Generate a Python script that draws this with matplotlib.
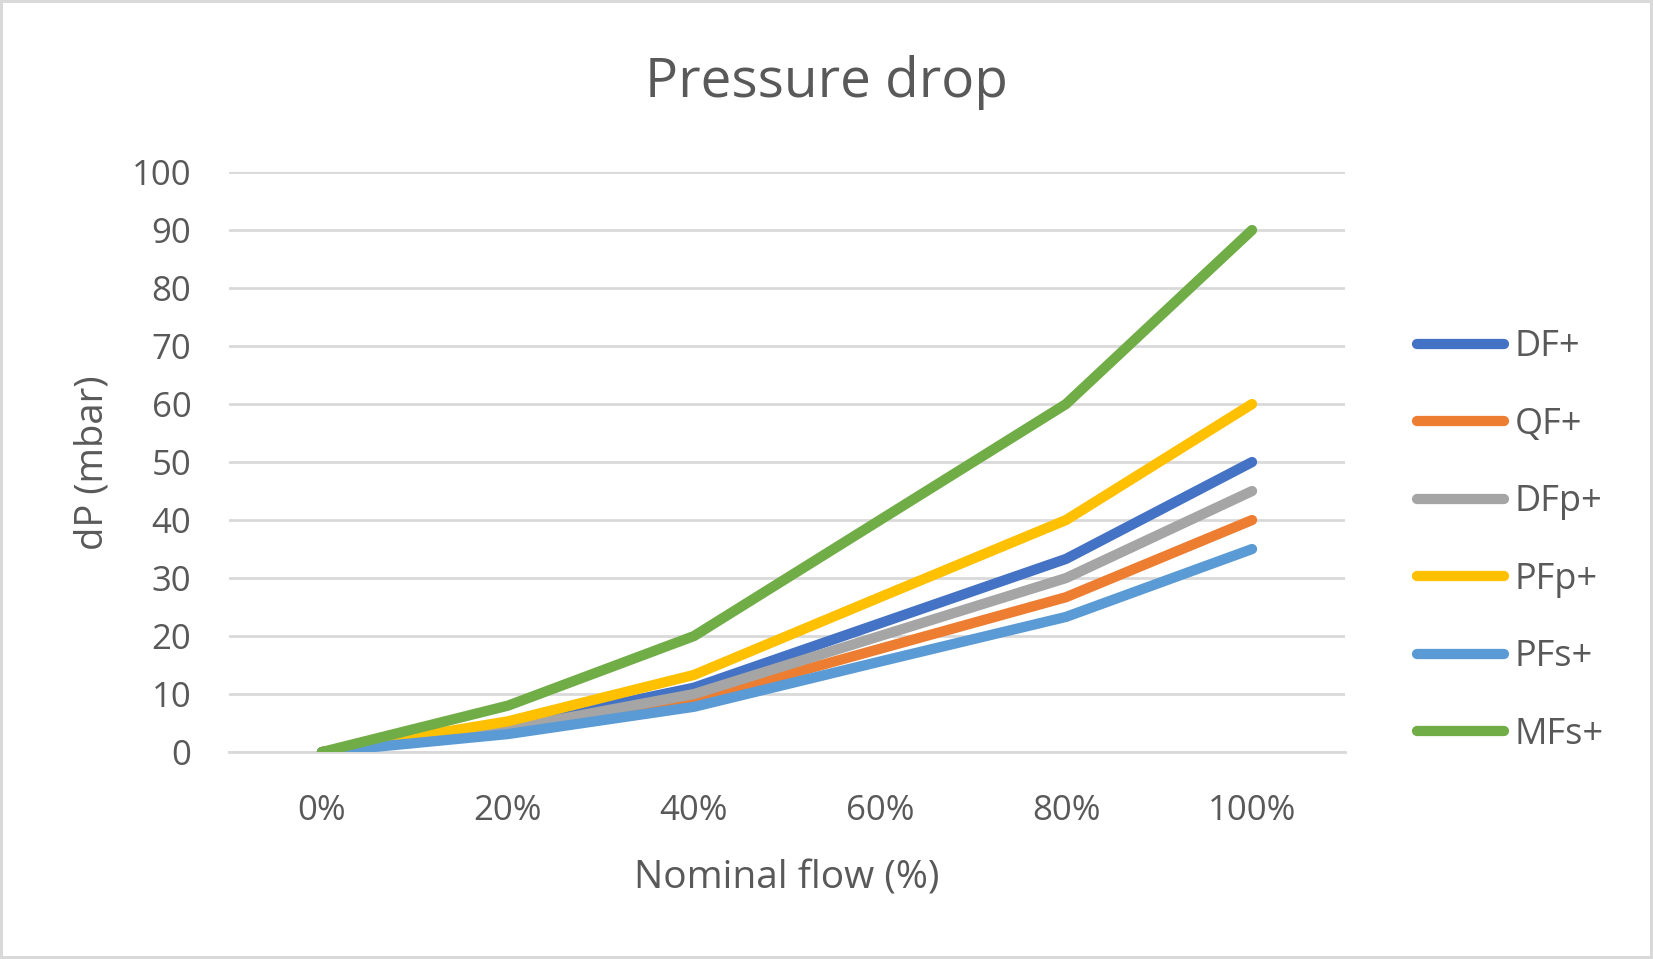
import matplotlib
matplotlib.use("Agg")
import matplotlib.pyplot as plt
from matplotlib.patches import Rectangle

# values
flow_labels = ["0%", "20%", "40%", "60%", "80%", "100%"]
series_names = ["DF+", "QF+", "DFp+", "PFp+", "PFs+", "MFs+"]
df_plus = [0, 4.4, 11.1, 22.2, 33.3, 50]
qf_plus = [0, 3.6, 8.9, 17.8, 26.7, 40]
dfp_plus = [0, 4.0, 10.0, 20.0, 30.0, 45]
pfp_plus = [0, 5.3, 13.3, 26.7, 40.0, 60]
pfs_plus = [0, 3.1, 7.8, 15.6, 23.3, 35]
mfs_plus = [0, 8.0, 20.0, 40.0, 60.0, 90]
colors = ["#4472C4", "#ED7D31", "#A5A5A5", "#FFC000", "#5B9BD5", "#70AD47"]

plt.rcParams['font.family'] = ['Open Sans', 'DejaVu Sans']
txt = "#595959"
grid_c = "#D9D9D9"

fig = plt.figure(figsize=(16.53, 9.59), dpi=100)
ax = fig.add_axes([0.1385, 0.2158, 0.8137 - 0.1385, 0.8206 - 0.2158])

x = list(range(len(flow_labels)))
all_series = [df_plus, qf_plus, dfp_plus, pfp_plus, pfs_plus, mfs_plus]
for vals, name, c in zip(all_series, series_names, colors):
    ax.plot(x, vals, color=c, lw=7.4, label=name,
            solid_capstyle='round', solid_joinstyle='round', zorder=3)

ax.set_xlim(-0.5, 5.5)
ax.set_ylim(0, 100)
ax.set_yticks(range(0, 101, 10))
ax.set_xticks(x)
ax.set_xticklabels(flow_labels)
ax.yaxis.grid(True, color=grid_c, lw=2)
ax.set_axisbelow(True)
for s in ["top", "right", "left"]:
    ax.spines[s].set_visible(False)
ax.spines["bottom"].set_color(grid_c)
ax.spines["bottom"].set_linewidth(2)
ax.tick_params(axis='y', length=0, pad=27, labelsize=25, labelcolor=txt)
ax.tick_params(axis='x', length=0, pad=30, labelsize=25, labelcolor=txt)

fig.text(0.5, 1 - 97 / 959, "Pressure drop", ha='center', va='baseline',
         fontsize=39.5, color=txt)
fig.text(787 / 1653, 1 - 889 / 959, "Nominal flow (%)", ha='center', va='baseline',
         fontsize=28, color=txt)
fig.text(92 / 1653, 1 - 463 / 959, "dP (mbar)", ha='center', va='center',
         rotation=90, fontsize=27.5, color=txt)

leg = ax.legend(loc='center left', bbox_to_anchor=(1417 / 1653, 1 - 541 / 959),
                bbox_transform=fig.transFigure, frameon=False, fontsize=26,
                handlelength=2.4, handletextpad=0.3, labelspacing=1.15,
                borderpad=0, borderaxespad=0)
for t in leg.get_texts():
    t.set_color(txt)
for h in leg.get_lines():
    h.set_solid_capstyle('round')

fig.patches.append(Rectangle((0, 0), 1, 1, transform=fig.transFigure, fill=False,
                             edgecolor=grid_c, lw=4.3))

fig.savefig("out.png", dpi=100)
